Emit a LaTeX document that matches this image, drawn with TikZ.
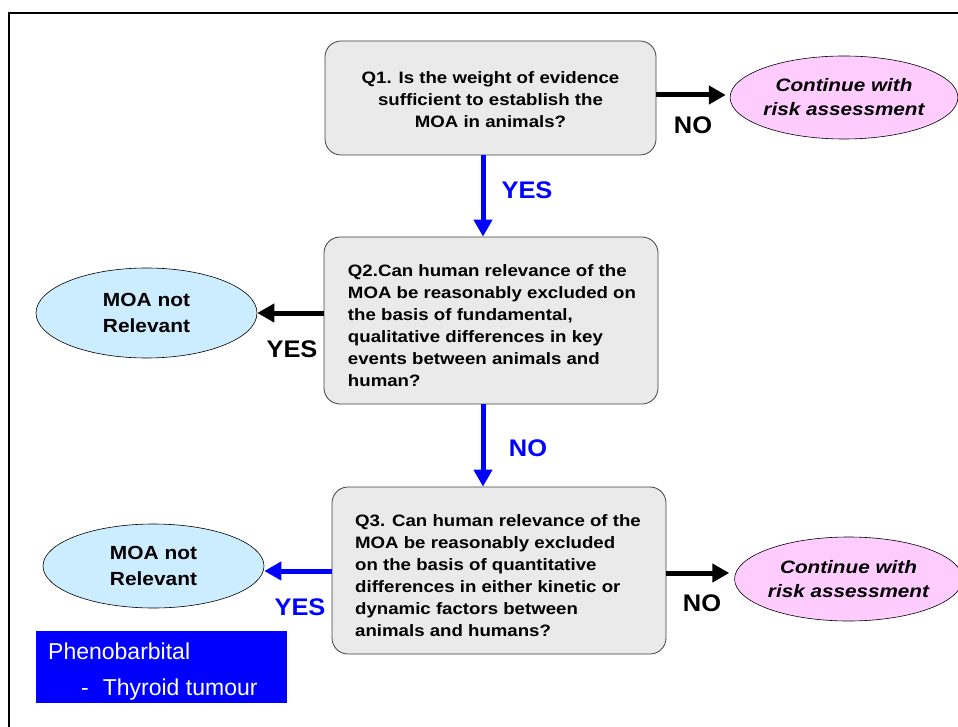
\documentclass[tikz,border=0pt]{standalone}
\usepackage{fontspec}
\setmainfont{Liberation Sans}
\newfontfamily\qfont[FakeStretch=1.13]{Liberation Sans}
\newfontfamily\efont[FakeStretch=1.15]{Liberation Sans}
\newfontfamily\mfont[FakeStretch=1.1]{Liberation Sans}
\newfontfamily\lfont[FakeStretch=1.06]{Liberation Sans}
\usetikzlibrary{shapes.geometric,arrows.meta}
\definecolor{qgray}{RGB}{234,234,234}
\definecolor{pinkfill}{RGB}{255,204,255}
\definecolor{lightbluefill}{RGB}{204,236,255}
\definecolor{pureblue}{RGB}{0,0,255}
\begin{document}
\begin{tikzpicture}[x=1pt,y=-1pt,
  qbox/.style={draw=black!75, line width=0.8pt, fill=qgray, rounded corners=16pt, inner sep=0pt},
  qtext/.style={font=\qfont\bfseries\fontsize{16.5}{22}\selectfont, align=left, inner sep=0pt},
  pinkell/.style={ellipse, draw=black, line width=0.6pt, fill=pinkfill, inner sep=0pt,
     font=\efont\bfseries\itshape\fontsize{18}{24}\selectfont, align=center},
  blueell/.style={ellipse, draw=black, line width=0.6pt, fill=lightbluefill, inner sep=0pt,
     font=\mfont\bfseries\fontsize{19}{26}\selectfont, align=center},
  blackarrow/.style={line width=5pt, -{Triangle[length=17pt,width=18pt]}},
  bluearrow/.style={line width=5pt, draw=pureblue, -{Triangle[length=17pt,width=18pt]}},
  lbl/.style={font=\lfont\bfseries\fontsize{24}{28}\selectfont, inner sep=0pt},
]
\useasboundingbox (0,0) rectangle (958,727);
% frame
\draw[line width=2pt] (9,727) -- (9,13) -- (958,13);

% question boxes
\node[qbox, minimum width=331pt, minimum height=114pt] (q1) at (490.5,98) {};
\node[qtext, align=center] (q1t) at (490.5,100) {Q1. Is the weight of evidence\\sufficient to establish the\\MOA in animals?};

\node[qbox, minimum width=334pt, minimum height=167pt] (q2) at (491,320.5) {};
\node[qtext] (q2t) at (492,326) {Q2.Can human relevance of the\\MOA be reasonably excluded on\\the basis of fundamental,\\qualitative differences in key\\events between animals and\\human?};

\node[qbox, minimum width=334pt, minimum height=167pt] (q3) at (499,570.5) {};
\node[qtext] (q3t) at (498,576) {Q3. Can human relevance of the\\MOA be reasonably excluded\\on the basis of quantitative\\differences in either kinetic or\\dynamic factors between\\animals and humans?};

% ellipses
\node[pinkell, minimum width=222pt, minimum height=83pt] (c1) at (844,97.5) {Continue with\\risk assessment};
\node[pinkell, minimum width=217pt, minimum height=84pt] (c2) at (848.5,579) {Continue with\\risk assessment};
\node[blueell, minimum width=221pt, minimum height=90pt] (m1) at (146.5,313) {MOA not\\Relevant};
\node[blueell, minimum width=221pt, minimum height=84pt] (m2) at (153.5,566) {MOA not\\Relevant};

% phenobarbital box
\node[fill=pureblue, minimum width=251pt, minimum height=72pt, inner sep=0pt, anchor=north west] (pb) at (36,631) {};
\node[text=white, font=\fontsize{23}{27}\selectfont, anchor=base west, inner sep=0pt] (pbt1) at (48,659) {Phenobarbital};
\node[text=white, font=\fontsize{23}{27}\selectfont, anchor=base west, inner sep=0pt] (pbt2) at (81,695) {-\hspace{14pt}Thyroid tumour};

% connectors
\coordinate (a1s) at (656,95);
\draw[blackarrow, shorten >=4pt] (q1.east |- a1s) -- (c1.west |- a1s);
\coordinate (v1) at (483,0);
\draw[bluearrow] (q1.south -| v1) -- (q2.north -| v1);
\draw[bluearrow] (q2.south -| v1) -- (q3.north -| v1);
\draw[blackarrow] (q2.west |- m1.east) -- (m1.east);
\coordinate (a3) at (0,571);
\draw[bluearrow] (q3.west |- a3) -- (m2.east |- a3);
\coordinate (a4) at (0,573);
\draw[blackarrow, shorten >=5pt] (q3.east |- a4) -- (c2.west |- a4);

% labels
\node[lbl] (no1) at (693,125) {NO};
\node[lbl, text=pureblue] (yes1) at (527,190) {YES};
\node[lbl] (yes2) at (292,349) {YES};
\node[lbl, text=pureblue] (no2) at (528,448) {NO};
\node[lbl, text=pureblue] (yes3) at (300,607) {YES};
\node[lbl] (no3) at (702,603) {NO};
\end{tikzpicture}
\end{document}
